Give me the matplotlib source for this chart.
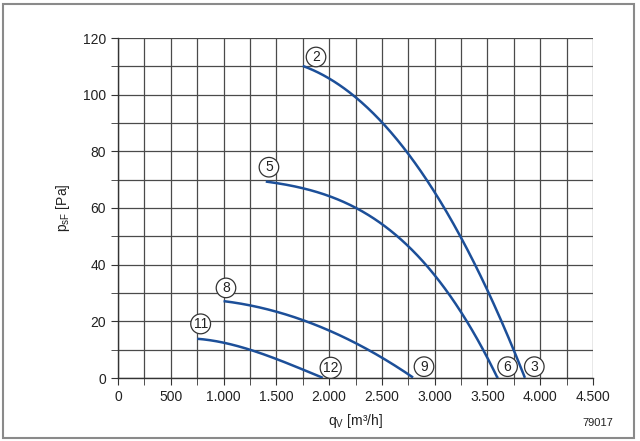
import matplotlib
matplotlib.use("Agg")
import matplotlib.pyplot as plt
from matplotlib.patches import Rectangle
from matplotlib.ticker import MultipleLocator, FuncFormatter
import numpy as np

plt.rcParams["font.family"] = ["Liberation Sans", "DejaVu Sans"]

# curve data: airflow [m3/h] vs static pressure [Pa]
q_2 = [1750, 2240, 2500, 2730, 2920, 3080, 3250, 3390, 3510, 3635, 3745, 3855]
p_2 = [110, 100, 90, 80, 70, 60, 50, 40, 30, 20, 10, 0]

q_5 = [1400, 1750, 2000, 2250, 2500, 2670, 2990, 3145, 3270, 3445, 3605]
p_5 = [69, 67.6, 64.7, 60, 53, 48, 40, 30, 20, 10, 0]

q_8 = [1000, 1250, 1500, 1755, 2010, 2260, 2410, 2795]
p_8 = [27, 25.8, 23.6, 20.3, 16.3, 11.6, 10, 0]

q_11 = [750, 1000, 1250, 1500, 1755, 1940]
p_11 = [13.8, 12.6, 9.9, 6.6, 3.1, 0]

labels = ["2", "5", "8", "11", "12", "9", "6", "3"]
label_q = [1876, 1430, 1023, 783, 2015, 2899, 3691, 3944]
label_p = [113.3, 74.4, 31.8, 19.1, 3.6, 4, 4, 4]

x_ticks = [0, 500, 1000, 1500, 2000, 2500, 3000, 3500, 4000, 4500]
y_ticks = [0, 20, 40, 60, 80, 100, 120]

line_col = "#1c4f99"
grid_col = "#4a4a4a"

fig = plt.figure(figsize=(6.4, 4.41), dpi=100)
ax = fig.add_axes([118 / 640, 1 - 378 / 441, 475 / 640, 340 / 441])

# outer frame
fig.patches.append(Rectangle((3 / 640, 3 / 441), 631 / 640, 434 / 441, transform=fig.transFigure,
                             fill=False, edgecolor="#8a8a8a", linewidth=1.5))

for q, p in [(q_2, p_2), (q_5, p_5), (q_8, p_8), (q_11, p_11)]:
    qs = np.array(q, dtype=float)
    ps = np.array(p, dtype=float)
    # least-squares cubic through the read points keeps the curve smooth
    coef = np.polyfit(qs, ps, 3)
    qq = np.linspace(qs[0], qs[-1], 300)
    pp = np.polyval(coef, qq)
    pp = np.clip(pp, 0, None)
    ax.plot(qq, pp, color=line_col, linewidth=1.8, solid_capstyle="butt", zorder=3)

for t, q, p in zip(labels, label_q, label_p):
    ax.text(q, p, t, ha="center", va="center", fontsize=10, color="#222222", zorder=5,
            bbox=dict(boxstyle="circle,pad=0.2", facecolor="white", edgecolor="#333333", linewidth=0.9))

ax.set_xlim(0, 4500)
ax.set_ylim(0, 120)
ax.set_xticks(x_ticks)
ax.set_yticks(y_ticks)
ax.xaxis.set_minor_locator(MultipleLocator(250))
ax.yaxis.set_minor_locator(MultipleLocator(10))
ax.xaxis.set_major_formatter(FuncFormatter(lambda v, _: f"{int(v):,}".replace(",", ".")))
ax.grid(True, which="both", color=grid_col, linewidth=0.9)
ax.set_axisbelow(True)
for s in ["top", "right"]:
    ax.spines[s].set_visible(False)
for s in ["left", "bottom"]:
    ax.spines[s].set_color("#333333")
    ax.spines[s].set_linewidth(1.0)
ax.tick_params(which="major", length=5, color="#333333", labelsize=10, labelcolor="#222222")
ax.tick_params(which="minor", length=5, color="#333333")

ax.set_xlabel("q$_\\mathregular{V}$ [m³/h]", fontsize=10, color="#222222", labelpad=6)
ax.set_ylabel("p$_\\mathregular{sF}$ [Pa]", fontsize=10, color="#222222", labelpad=8)
fig.text(598 / 640, 1 - 423 / 441, "79017", ha="center", va="center", fontsize=8, color="#222222")

fig.savefig("out.png", dpi=100)
